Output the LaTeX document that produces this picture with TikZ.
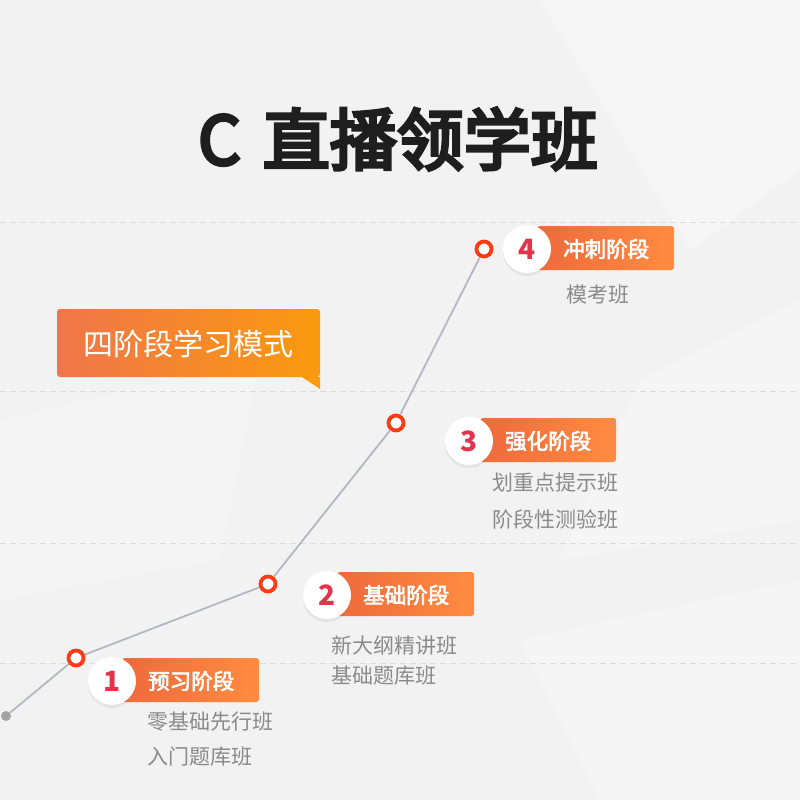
\documentclass[tikz,border=0pt]{standalone}
\usepackage{fontspec}
\setmainfont{Noto Sans CJK SC}
\newfontfamily\cjkfb{Noto Sans CJK SC}[FakeBold=3]
\newfontfamily\cjkfbt{Noto Sans CJK SC}[FakeBold=5]
\usetikzlibrary{shadows}
\definecolor{bgc}{HTML}{F2F2F2}
\definecolor{dashc}{HTML}{DCDCDC}
\definecolor{linec}{HTML}{B4B7C2}
\definecolor{redc}{HTML}{FF3A12}
\definecolor{numc}{HTML}{E2344C}
\definecolor{barl}{HTML}{EF6A3C}
\definecolor{barr}{HTML}{FF8C40}
\definecolor{tagl}{HTML}{F0764A}
\definecolor{tagr}{HTML}{FA9A0E}
\definecolor{subc}{HTML}{8A8A8A}
\definecolor{titc}{HTML}{1E1E1E}
\definecolor{dotc}{HTML}{A4A4A4}
\tikzset{
  dashline/.style={dashc, line width=1pt, dash pattern=on 6pt off 4pt},
  conn/.style={linec, line width=1.8pt},
  reddot/.style={circle, draw=redc, fill=white, line width=3.8pt, minimum size=15pt, inner sep=0pt},
  graydot/.style={circle, fill=dotc, minimum size=10pt, inner sep=0pt},
  bar/.style={rectangle, rounded corners=3pt, left color=barl, right color=barr, minimum height=44pt, inner sep=0pt, anchor=west},
  numcirc/.style={circle, fill=white, minimum size=48pt, inner sep=0pt, drop shadow={opacity=0.12, shadow xshift=0pt, shadow yshift=-3pt}},
  numtxt/.style={font=\fontsize{28}{30}\selectfont\bfseries, text=numc},
  bartxt/.style={font=\fontsize{21.5}{26}\selectfont\cjkfb, text=white, anchor=west, inner sep=0pt},
  subtxt/.style={font=\fontsize{21}{26}\selectfont, text=subc, anchor=west, inner sep=0pt},
}
\begin{document}
\begin{tikzpicture}[x=1pt, y=-1pt]
\useasboundingbox (0,0) rectangle (800,800);
\fill[bgc] (0,0) rectangle (800,800);
% subtle background planes
\fill[white, opacity=0.35] (540,0) -- (800,0) -- (800,170) -- (690,250) -- cycle;
\fill[white, opacity=0.3] (640,380) -- (800,300) -- (800,520) -- (560,560) -- cycle;
\fill[white, opacity=0.2] (0,420) -- (260,360) -- (220,560) -- (0,600) -- cycle;
\fill[white, opacity=0.25] (520,640) -- (800,580) -- (800,800) -- (600,800) -- cycle;
% dashed guide lines
\draw[dashline] (0,222) -- (800,222);
\draw[dashline] (0,391) -- (800,391);
\draw[dashline] (0,543) -- (800,543);
\draw[dashline] (0,663) -- (800,663);
% title
\node[font=\fontsize{67}{78}\selectfont\cjkfbt, text=titc] (title) at (398,139) {C\hspace{22pt}直播领学班};
% tag box
\fill[tagr] (302,377) -- (320,377) -- (320,389) -- cycle;
\node[rectangle, rounded corners=3pt, left color=tagl, right color=tagr, minimum width=263pt, minimum height=68pt, inner sep=0pt] (tag) at (188.5,343) {};
\node[font=\fontsize{30}{34}\selectfont, text=white] (tagtxt) at (188,344) {四阶段学习模式};
% path points
\node[graydot] (p0) at (6,716) {};
\node[reddot] (p1) at (76,658) {};
\node[reddot] (p2) at (268,584) {};
\node[reddot] (p3) at (396,423) {};
\node[reddot] (p4) at (484,249) {};
\draw[conn] (p0) -- (p1);
\draw[conn] (p1) -- (p2);
\draw[conn] (p2) -- (p3);
\draw[conn] (p3) -- (p4);
% stage 1
\node[bar, minimum width=137pt] (b1) at (122,680) {};
\node[numcirc] (c1) at (112,681) {};
\node[numtxt] at (c1) {1};
\node[bartxt] (t1) at (148,681) {预习阶段};
\node[subtxt] (s1a) at (147,722) {零基础先行班};
\node[subtxt] (s1b) at (147,757) {入门题库班};
% stage 2
\node[bar, minimum width=137pt] (b2) at (337,594) {};
\node[numcirc] (c2) at (327,595) {};
\node[numtxt] at (c2) {2};
\node[bartxt] (t2) at (363,595) {基础阶段};
\node[subtxt] (s2a) at (331,645) {新大纲精讲班};
\node[subtxt] (s2b) at (331,676) {基础题库班};
% stage 3
\node[bar, minimum width=136pt] (b3) at (480,440) {};
\node[numcirc] (c3) at (469,441) {};
\node[numtxt] at (c3) {3};
\node[bartxt] (t3) at (505,441) {强化阶段};
\node[subtxt] (s3a) at (492,483) {划重点提示班};
\node[subtxt] (s3b) at (492,519) {阶段性测验班};
% stage 4
\node[bar, minimum width=137pt] (b4) at (537,248) {};
\node[numcirc] (c4) at (527,249) {};
\node[numtxt] at (c4) {4};
\node[bartxt] (t4) at (563,249) {冲刺阶段};
\node[subtxt, anchor=center] (s4a) at (598,295) {模考班};
\end{tikzpicture}
\end{document}
